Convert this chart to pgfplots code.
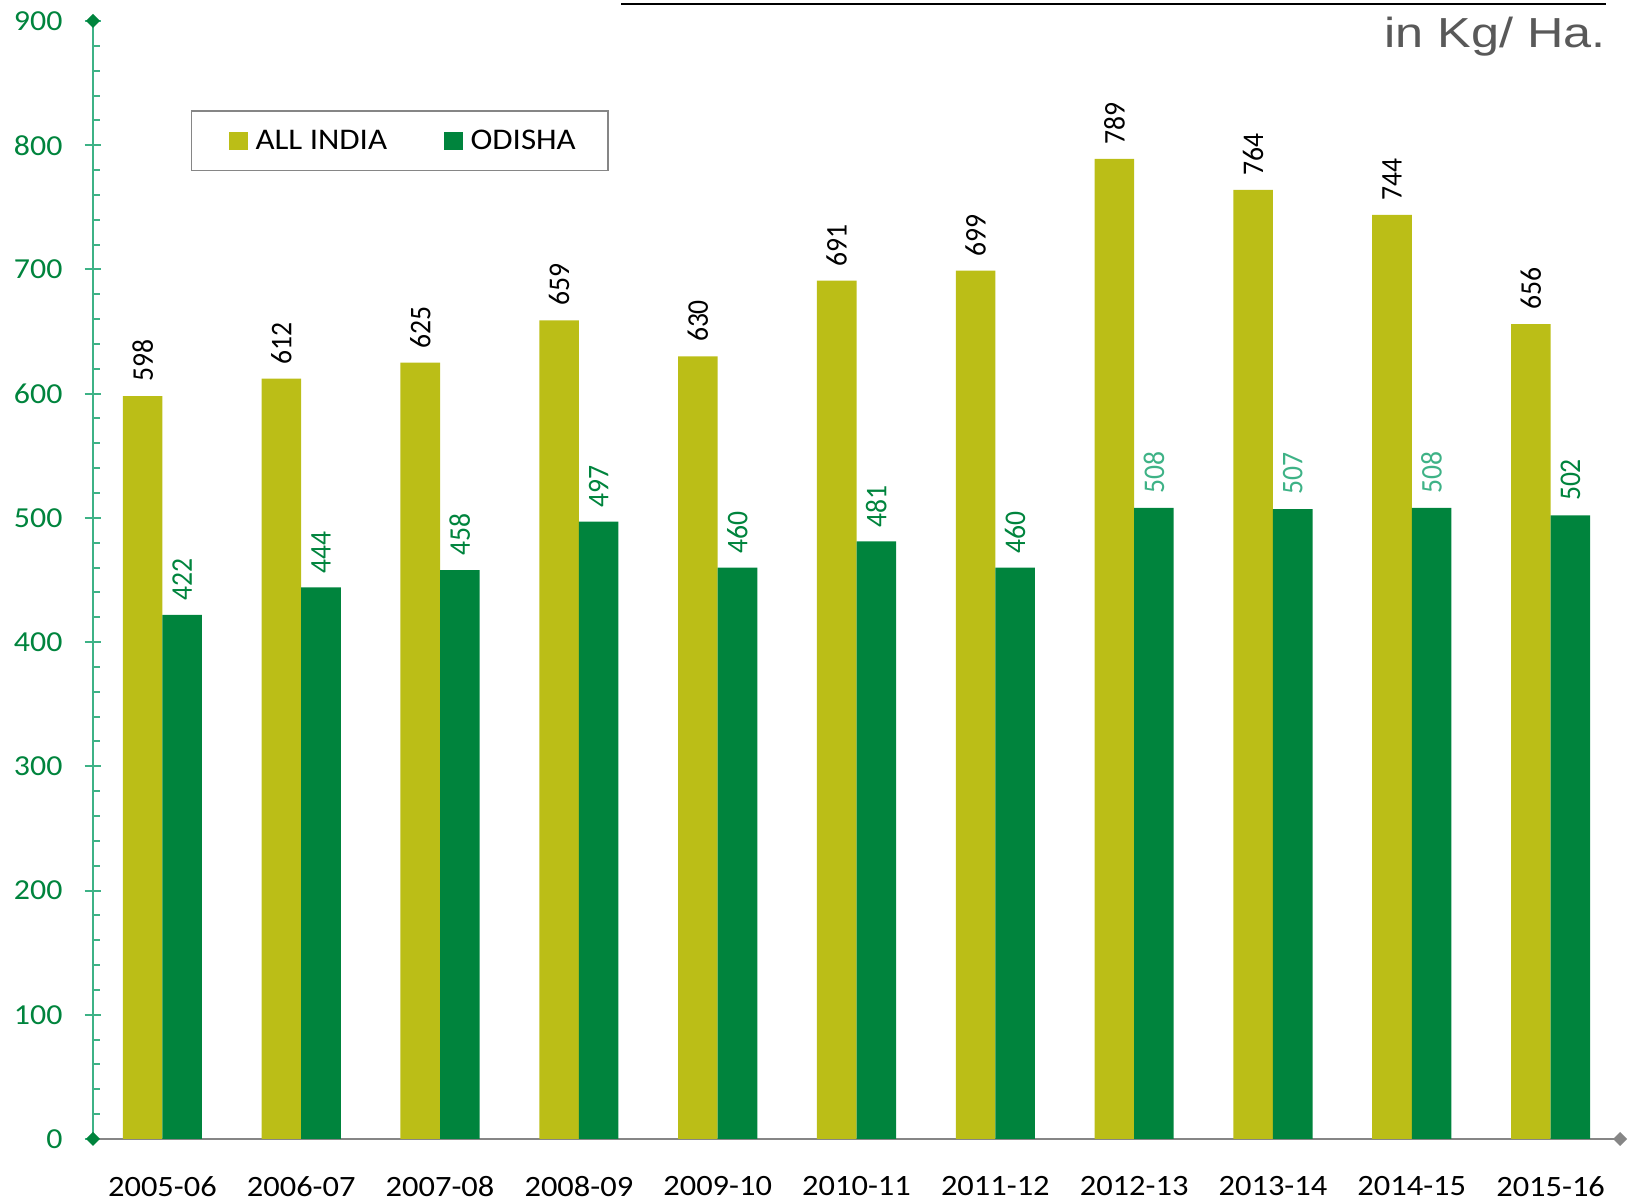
\documentclass[border=0pt]{standalone}
\usepackage{fontspec}
\setmainfont{Carlito}[FakeStretch=1.1]
\newfontfamily\labfont{Carlito}[FakeStretch=0.92]
\newfontfamily\unitfont{Liberation Sans}[FakeStretch=1.2]
\usepackage{pgfplots}
\usepackage{pgfplotstable}
\pgfplotsset{compat=1.18}
\usetikzlibrary{arrows.meta}

\definecolor{allindia}{RGB}{187,190,23}
\definecolor{odisha}{RGB}{0,132,61}
\definecolor{mint}{RGB}{62,178,134}
\definecolor{axgray}{RGB}{134,134,134}
\definecolor{unitgray}{RGB}{89,89,89}

% yield in kg/ha; lc = share of mint in the ODISHA value label colour
\pgfplotstableread{
idx year    ai  od  lc
0   2005-06 598 422 0
1   2006-07 612 444 0
2   2007-08 625 458 0
3   2008-09 659 497 0
4   2009-10 630 460 0
5   2010-11 691 481 0
6   2011-12 699 460 0
7   2012-13 789 508 100
8   2013-14 764 507 100
9   2014-15 744 508 100
10  2015-16 656 502 0
}\yield

\begin{document}
\begin{tikzpicture}
  \begin{axis}[
      at={(46.5pt,32pt)}, anchor=south west,
      scale only axis, width=763.5pt, height=559pt,
      xmin=-0.5, xmax=10.5, ymin=0, ymax=900,
      axis lines*=left,
      ybar=0pt, bar width=0.285,
      x axis line style={draw=axgray, line width=1pt, shorten >=-3.5pt,
        -{Diamond[length=7pt,width=7pt,fill=axgray]}},
      y axis line style={draw=mint, line width=1pt,
        shorten >=-3.5pt, shorten <=-3.5pt,
        {Diamond[length=7pt,width=7pt,color=odisha,fill=odisha]}-{Diamond[length=7pt,width=7pt,color=odisha,fill=odisha]}},
      xtick={0,...,10},
      xticklabels={2005-06,2006-07,2007-08,2008-09,2009-10,2010-11,2011-12,2012-13,2013-14,2014-15,2015-16},
      xtick style={draw=none},
      xticklabel style={font=\fontsize{14.75}{17}\selectfont, yshift=-11pt},
      ytick={0,100,...,900},
      minor y tick num=4,
      tick align=center,
      major tick length=8.5pt,
      minor tick length=3.5pt,
      ytick style={draw=mint, line width=1pt},
      minor y tick style={xshift=1.75pt},
      yticklabel style={text=odisha, font=\fontsize{14.5}{17}\selectfont, xshift=-7.5pt},
      /pgf/number format/assume math mode=true,
      legend columns=2,
      legend style={at={(0.064,0.92)}, anchor=north west, draw=axgray,
        line width=0.8pt, inner xsep=14pt, inner ysep=7.25pt,
        nodes={inner xsep=2pt},
        font=\fontsize{15}{18}\selectfont,
        /tikz/every odd column/.append style={column sep=1.9pt},
        /tikz/every even column/.append style={column sep=21.7pt}},
      legend image code/.code={\path (0pt,0pt);
        \fill[#1] (4.8pt,-4.4pt) rectangle (14.1pt,4.4pt);},
      every node near coord/.append style={rotate=90, anchor=west,
        inner xsep=7pt, inner ysep=0pt, font=\labfont\fontsize{15}{17}\selectfont},
    ]
    \addplot[fill=allindia, draw=none, nodes near coords,
      every node near coord/.append style={text=black}]
      table[x=idx, y=ai] {\yield};
    \addplot[fill=odisha, draw=none, nodes near coords,
      visualization depends on={\thisrow{lc} \as \labmix},
      every node near coord/.append style={text=mint!\labmix!odisha}]
      table[x=idx, y=od] {\yield};
    \legend{ALL INDIA, ODISHA}
    \pgfplotsinvokeforeach{0.5,1.5,...,9.5}{
      \draw[axgray, line width=1pt] (axis cs:#1,0) -- ++(0,-5pt);
    }
  \end{axis}
  \draw[black, line width=1pt] (310.5pt,599.25pt) -- (803pt,599.25pt);
  \node[anchor=base east, inner sep=0pt, text=unitgray,
    font=\unitfont\fontsize{21}{25}\selectfont] at (803pt,577.5pt) {in Kg/ Ha.};
  \pgfresetboundingbox
  \useasboundingbox (0,0) rectangle (814pt,601.5pt);
\end{tikzpicture}
\end{document}
